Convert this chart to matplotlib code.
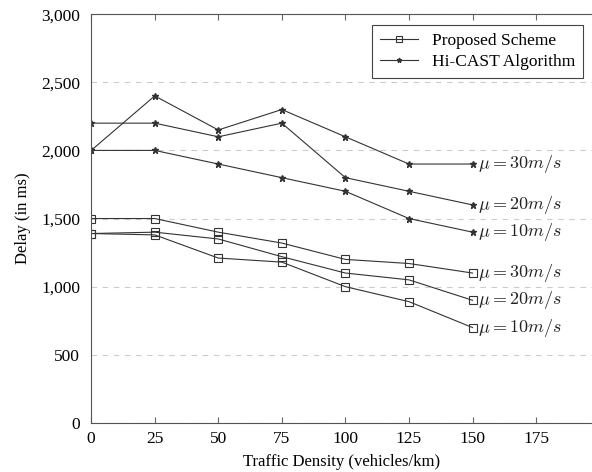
import matplotlib
matplotlib.use("Agg")
import matplotlib.pyplot as plt
from matplotlib.ticker import FuncFormatter

plt.rcParams['font.family'] = ['Liberation Serif', 'DejaVu Serif']
plt.rcParams['mathtext.fontset'] = 'cm'

density = [0, 25, 50, 75, 100, 125, 150]
speeds = ["30", "20", "10"]

# Hi-CAST delays (ms) for mu = 30, 20, 10 m/s
hicast = {
    "30": [2000, 2400, 2150, 2300, 2100, 1900, 1900],
    "20": [2200, 2200, 2100, 2200, 1800, 1700, 1600],
    "10": [2000, 2000, 1900, 1800, 1700, 1500, 1400],
}
# proposed scheme delays (ms)
proposed = {
    "30": [1500, 1500, 1400, 1320, 1200, 1170, 1100],
    "20": [1390, 1400, 1350, 1220, 1100, 1050, 900],
    "10": [1390, 1380, 1210, 1180, 1000, 890, 700],
}

fig = plt.figure(figsize=(5.92, 4.72), dpi=100)
ax = fig.add_axes([0.154, 0.104, 0.846, 0.866])

lc = '#333333'
for i, s in enumerate(speeds):
    ax.plot(density, proposed[s], color=lc, lw=0.8, marker='s', ms=6,
            mfc='none', mec=lc, mew=0.8,
            label="Proposed Scheme" if i == 0 else None)
    ax.plot(density, hicast[s], color=lc, lw=0.8, marker='*', ms=5,
            mfc=lc, mec=lc,
            label="Hi-CAST Algorithm" if i == 0 else None)
    ax.text(152, hicast[s][-1], r"$\mu = %sm/s$" % s, fontsize=13,
            va='center', ha='left', color='#222222')
    ax.text(152, proposed[s][-1], r"$\mu = %sm/s$" % s, fontsize=13,
            va='center', ha='left', color='#222222')

ax.set_xlim(0, 197)
ax.set_ylim(0, 3000)
ax.set_xticks([0, 25, 50, 75, 100, 125, 150, 175])
ax.set_yticks(range(0, 3001, 500))
ax.yaxis.set_major_formatter(FuncFormatter(lambda v, p: f"{int(v):,}"))
ax.tick_params(axis='x', direction='in', top=True, length=4, labelsize=12.5,
               color='#666666', pad=6)
ax.tick_params(axis='y', length=0, labelsize=12.5, pad=8)
ax.grid(axis='y', ls=(0, (5, 5)), color='#cccccc', lw=0.8)
for sp in ['left', 'bottom', 'top']:
    ax.spines[sp].set_color('#555555')
ax.spines['right'].set_visible(False)

ax.set_xlabel("Traffic Density (vehicles/km)", fontsize=12, labelpad=5)
ax.set_ylabel("Delay (in ms)", fontsize=12, labelpad=7)

leg = ax.legend(loc='upper right', bbox_to_anchor=(1.0, 0.995), fontsize=12.5,
                fancybox=False, edgecolor='#444444', framealpha=1,
                handlelength=2.2, borderpad=0.45, labelspacing=0.3,
                markerscale=0.7)
leg.get_frame().set_linewidth(0.8)

fig.savefig("out.png", dpi=100)
